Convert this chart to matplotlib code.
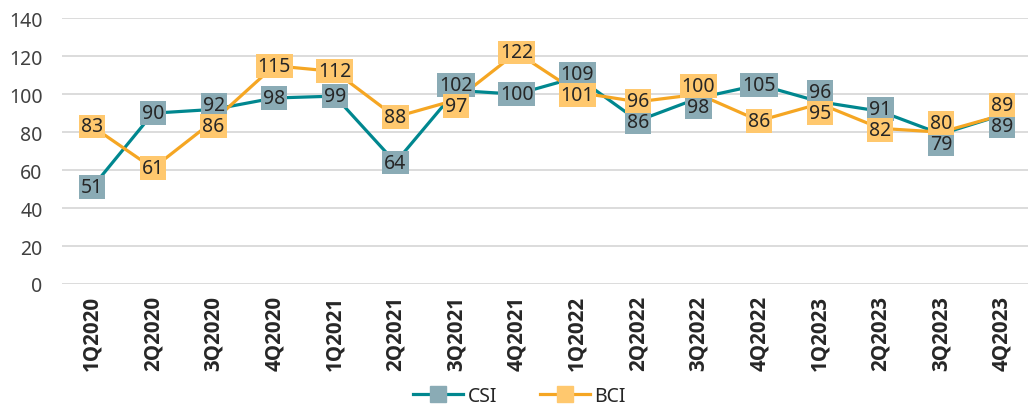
import matplotlib
matplotlib.use("Agg")
import matplotlib.pyplot as plt

plt.rcParams["font.family"] = ["Noto Sans", "DejaVu Sans"]

quarters = ["1Q2020", "2Q2020", "3Q2020", "4Q2020",
            "1Q2021", "2Q2021", "3Q2021", "4Q2021",
            "1Q2022", "2Q2022", "3Q2022", "4Q2022",
            "1Q2023", "2Q2023", "3Q2023", "4Q2023"]
csi = [51, 90, 92, 98, 99, 64, 102, 100, 109, 86, 98, 105, 96, 91, 79, 89]
bci = [83, 61, 86, 115, 112, 88, 97, 122, 101, 96, 100, 86, 95, 82, 80, 89]

CSI_LINE = "#00878F"
CSI_BOX = "#8AABB5"
BCI_LINE = "#F5A623"
BCI_BOX = "#FFC86E"
TEXT = "#262626"

W, H, DPI = 1028, 414, 100
fig = plt.figure(figsize=(W / DPI, H / DPI), dpi=DPI)
ax = fig.add_axes([62 / W, (H - 285) / H, 970 / W, (285 - 19.3) / H])

x = list(range(len(quarters)))
ax.plot(x, csi, color=CSI_LINE, lw=2.3, marker="s", ms=7,
        mfc=CSI_BOX, mec=CSI_BOX, label="CSI", zorder=3)
ax.plot(x, bci, color=BCI_LINE, lw=2.3, marker="s", ms=7,
        mfc=BCI_BOX, mec=BCI_BOX, label="BCI", zorder=3)

ax.set_xlim(-0.5, len(quarters) - 0.5)
ax.set_ylim(0, 140)
ax.set_yticks(range(0, 141, 20))
ax.set_xticks(x)
ax.set_xticklabels(quarters, rotation=90, fontsize=14.8, color=TEXT,
                   family=["Open Sans", "DejaVu Sans"], fontweight="bold")
ax.tick_params(axis="y", labelsize=14, colors="#404040", length=0, pad=14)
ax.tick_params(axis="x", length=0, pad=8)
ax.grid(axis="y", color="#D9D9D9", lw=1.3)
ax.set_axisbelow(True)
for s in ax.spines.values():
    s.set_visible(False)

# Data labels: boxed values on each point, nudged apart where the two
# series sit close together so the boxes stack instead of overlapping.
px_per_unit = (285 - 19.3) / 140
min_sep_px = 21
for i in x:
    a, b = csi[i], bci[i]
    sep = abs(a - b) * px_per_unit
    shift = max(0.0, (min_sep_px - sep) / 2) * 72 / DPI
    if a > b:
        off_c, off_b = shift, -shift
    else:
        off_c, off_b = -shift, shift
    for val, off, box in ((a, off_c, CSI_BOX), (b, off_b, BCI_BOX)):
        ax.annotate(str(val), (i, val), xytext=(0, off),
                    textcoords="offset points", ha="center", va="center",
                    fontsize=14, color=TEXT, zorder=5,
                    bbox=dict(boxstyle="square,pad=0.1", fc=box, ec="none"))

fig.legend(loc="lower center", bbox_to_anchor=(0.505, -0.025), ncol=2,
           frameon=False, fontsize=14, handlelength=2.6, columnspacing=2.2,
           handletextpad=0.2, labelcolor=TEXT, markerscale=1.6)

fig.savefig("out.png", dpi=DPI)
